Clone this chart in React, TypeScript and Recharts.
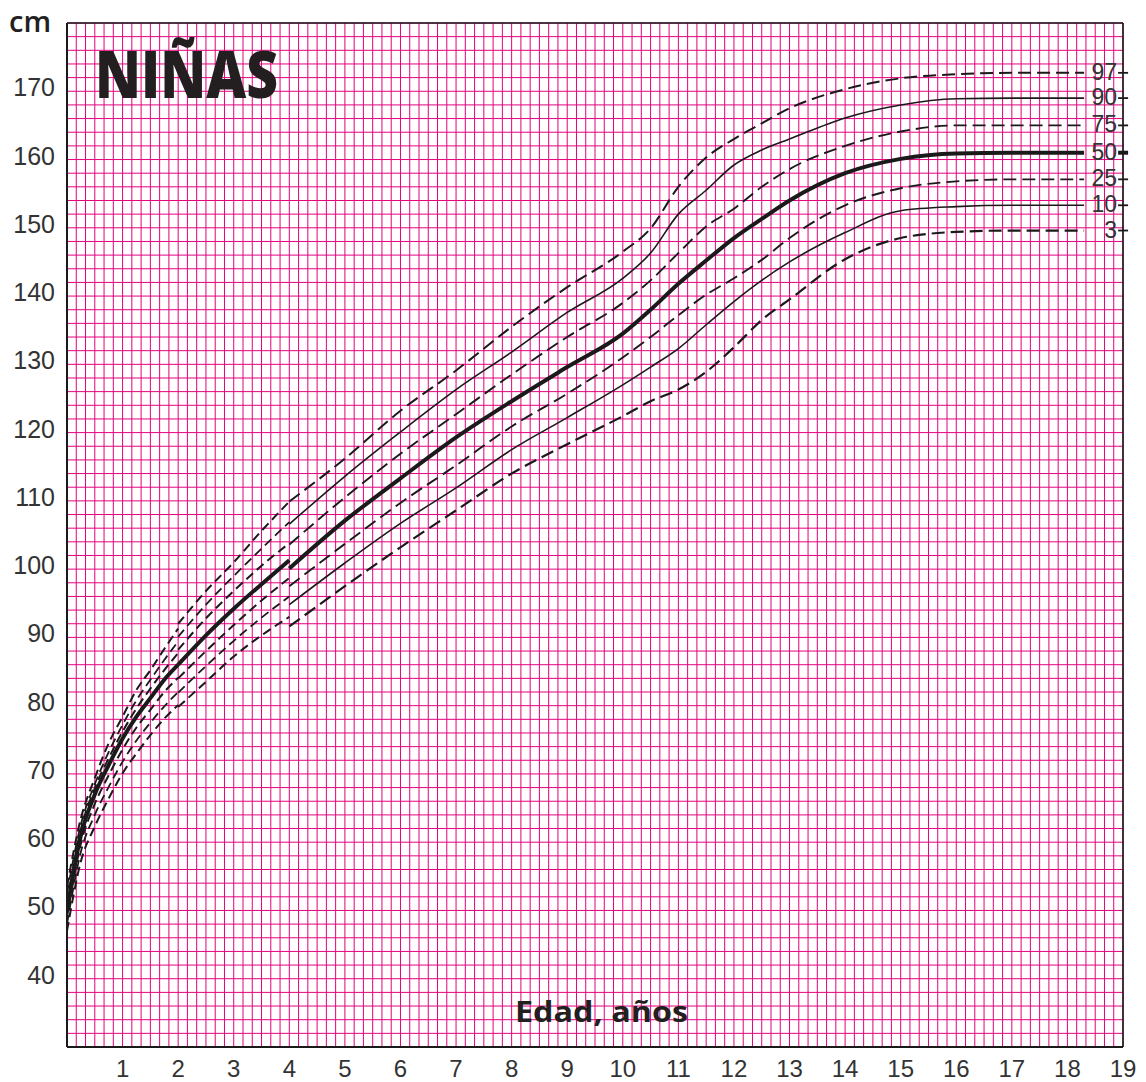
import React from 'react';
import { LineChart, Line, XAxis, YAxis, CartesianGrid, ReferenceLine, ReferenceDot } from 'recharts';

// edades (años) de cada tramo de las curvas
const agesInfant = [0, 0.25, 0.5, 0.75, 1, 1.25, 1.5, 1.75, 2];
const agesToddler = [2, 2.5, 3, 3.5, 4];
const agesChild = [4, 5, 6, 7, 8, 9, 10, 10.5, 11, 11.5, 12, 12.5, 13, 14, 15, 16, 17, 18.3];

// talla (cm) por percentil, tramo 0-2 años
const p97Infant = [53.5, 63.5, 69.4, 74.5, 78.4, 82.3, 85.2, 88.3, 91.3];
const p90Infant = [52.5, 62.6, 68.5, 73.2, 77.2, 80.8, 83.8, 86.7, 89.4];
const p75Infant = [51.3, 61.9, 67.9, 72.3, 76.2, 79.6, 82.5, 85.2, 87.7];
const p50Infant = [50.0, 61.0, 67.0, 71.3, 75.2, 78.4, 81.1, 83.8, 86.0];
const p25Infant = [49.0, 59.8, 65.6, 69.8, 73.6, 76.8, 79.4, 82.0, 84.1];
const p10Infant = [48.0, 58.6, 64.0, 68.1, 71.8, 74.9, 77.5, 79.9, 82.0];
const p3Infant = [47.0, 57.2, 62.3, 66.4, 70.1, 73.0, 75.7, 78.1, 80.1];

// tramo 2-4 años
const p97Toddler = [92.0, 96.8, 101.0, 105.6, 109.9];
const p90Toddler = [90.1, 94.8, 99.0, 103.0, 106.9];
const p75Toddler = [88.2, 92.8, 96.8, 100.5, 103.8];
const p50Toddler = [86.0, 90.3, 94.2, 97.8, 101.3];
const p25Toddler = [84.0, 88.0, 91.8, 95.4, 98.7];
const p10Toddler = [81.9, 85.8, 89.5, 92.9, 96.0];
const p3Toddler = [79.8, 83.5, 87.2, 90.3, 93.0];

// tramo 4-18 años
const p97Child = [109.9, 116.2, 123.2, 129.1, 135.5, 141.3, 146.5, 149.9, 156.0, 160.3, 163.0, 165.3, 167.5, 170.3, 171.9, 172.5, 172.7, 172.7];
const p90Child = [106.6, 113.6, 120.1, 126.3, 131.8, 137.6, 142.6, 146.3, 152.0, 155.5, 159.2, 161.4, 163.0, 166.1, 168.0, 168.9, 169.0, 169.0];
const p75Child = [103.6, 110.5, 116.9, 122.7, 128.5, 134.0, 139.0, 142.3, 146.3, 150.2, 152.8, 156.0, 158.6, 162.0, 164.1, 165.0, 165.0, 165.0];
const p50Child = [100.1, 107.1, 113.3, 119.3, 124.6, 129.6, 134.5, 138.0, 141.8, 145.2, 148.5, 151.3, 154.0, 158.0, 160.1, 160.9, 161.0, 161.0];
const p25Child = [97.5, 103.7, 109.7, 115.2, 120.9, 125.7, 131.0, 134.0, 137.2, 140.2, 142.6, 145.3, 148.5, 153.3, 155.8, 156.8, 157.1, 157.1];
const p10Child = [94.8, 100.9, 106.7, 111.9, 117.5, 122.2, 127.0, 129.6, 132.3, 135.8, 139.2, 142.3, 145.0, 149.3, 152.5, 153.1, 153.3, 153.3];
const p3Child = [91.6, 97.5, 103.2, 108.6, 114.0, 118.3, 122.4, 124.6, 126.3, 128.9, 132.5, 136.5, 139.5, 145.4, 148.5, 149.4, 149.6, 149.6];

const yearLabels = [1, 2, 3, 4, 5, 6, 7, 8, 9, 10, 11, 12, 13, 14, 15, 16, 17, 18, 19];
const cmLabels = [40, 50, 60, 70, 80, 90, 100, 110, 120, 130, 140, 150, 160, 170];

// papel milimetrado: cada 2 meses y cada 2 cm
const gridAges = Array.from({ length: 115 }, (_, k) => k / 6);
const gridCm = Array.from({ length: 76 }, (_, k) => 30 + 2 * k);

const INK = '#1a1a1a';
const PINK = '#e5007e';
const FONT = '"Liberation Sans", Arial, sans-serif';

type Style = { width: number; dash?: string };

const percentiles: {
  name: string;
  infant: number[];
  toddler: number[];
  child: number[];
  early: Style;
  late: Style;
}[] = [
  { name: '97', infant: p97Infant, toddler: p97Toddler, child: p97Child, early: { width: 2, dash: '9 5' }, late: { width: 2, dash: '13 6' } },
  { name: '90', infant: p90Infant, toddler: p90Toddler, child: p90Child, early: { width: 1.8, dash: '9 5' }, late: { width: 1.6 } },
  { name: '75', infant: p75Infant, toddler: p75Toddler, child: p75Child, early: { width: 2, dash: '9 5' }, late: { width: 1.9, dash: '13 6' } },
  { name: '50', infant: p50Infant, toddler: p50Toddler, child: p50Child, early: { width: 4 }, late: { width: 4 } },
  { name: '25', infant: p25Infant, toddler: p25Toddler, child: p25Child, early: { width: 2, dash: '9 5' }, late: { width: 1.9, dash: '13 6' } },
  { name: '10', infant: p10Infant, toddler: p10Toddler, child: p10Child, early: { width: 1.8, dash: '9 5' }, late: { width: 1.6 } },
  { name: '3', infant: p3Infant, toddler: p3Toddler, child: p3Child, early: { width: 2, dash: '9 5' }, late: { width: 2.2, dash: '13 6' } },
];

const toPoints = (ages: number[], values: number[]) => ages.map((age, i) => ({ age, cm: values[i] }));

const XTick = (props: any) => {
  const { x, y, payload } = props;
  if (!yearLabels.includes(payload.value)) return <g />;
  return (
    <text x={x} y={y} dy={30} textAnchor="middle" fontSize={24} fontFamily={FONT} fill="#333">
      {payload.value}
    </text>
  );
};

const YTick = (props: any) => {
  const { x, y, payload } = props;
  if (!cmLabels.includes(payload.value)) return <g />;
  return (
    <text x={x} y={y} dy={5} textAnchor="end" fontSize={25} fontFamily={FONT} fill="#333">
      {payload.value}
    </text>
  );
};

const endMark = (name: string) => (props: any) => {
  const { cx, cy } = props;
  const thick = name === '50';
  return (
    <g>
      <text x={cx + 33} y={cy} dy={7} textAnchor="end" fontSize={23} fontFamily={FONT} fill="#333">
        {name}
      </text>
      <line x1={cx + 34} x2={cx + 44} y1={cy} y2={cy} stroke={INK} strokeWidth={thick ? 4 : 1.8} />
    </g>
  );
};

export default function App() {
  const W = 1146;
  const H = 1082;
  return (
    <div style={{ position: 'absolute', left: 0, top: 0, width: W, height: H, background: '#fff' }}>
      <LineChart width={W} height={H} margin={{ top: 23, right: 23, left: 0, bottom: 0 }}>
        <CartesianGrid stroke={PINK} strokeWidth={1} />
        <XAxis
          dataKey="age"
          type="number"
          domain={[0, 19]}
          ticks={gridAges}
          interval={0}
          height={35}
          tickSize={0}
          tickMargin={0}
          tickLine={false}
          tick={<XTick />}
          axisLine={{ stroke: INK, strokeWidth: 2 }}
          allowDataOverflow
        />
        <YAxis
          dataKey="cm"
          type="number"
          domain={[30, 180]}
          ticks={gridCm}
          interval={0}
          width={67}
          tickSize={0}
          tickMargin={12}
          tickLine={false}
          tick={<YTick />}
          axisLine={{ stroke: INK, strokeWidth: 2 }}
          allowDataOverflow
        />
        <ReferenceLine y={180} stroke={INK} strokeWidth={1.6} />
        <ReferenceLine x={19} stroke={INK} strokeWidth={1.6} />

        {percentiles.map((p) => (
          <Line
            key={`a${p.name}`}
            data={toPoints(agesInfant, p.infant)}
            dataKey="cm"
            type="monotone"
            dot={false}
            stroke={INK}
            strokeWidth={p.early.width}
            strokeDasharray={p.early.dash}
            isAnimationActive={false}
          />
        ))}
        {percentiles.map((p) => (
          <Line
            key={`b${p.name}`}
            data={toPoints(agesToddler, p.toddler)}
            dataKey="cm"
            type="monotone"
            dot={false}
            stroke={INK}
            strokeWidth={p.early.width}
            strokeDasharray={p.early.dash}
            isAnimationActive={false}
          />
        ))}
        {percentiles.map((p) => (
          <Line
            key={`c${p.name}`}
            data={toPoints(agesChild, p.child)}
            dataKey="cm"
            type="monotone"
            dot={false}
            stroke={INK}
            strokeWidth={p.late.width}
            strokeDasharray={p.late.dash}
            isAnimationActive={false}
          />
        ))}
        {percentiles.map((p) => (
          <ReferenceDot
            key={`d${p.name}`}
            x={agesChild[agesChild.length - 1]}
            y={p.child[p.child.length - 1]}
            r={0}
            shape={endMark(p.name)}
          />
        ))}
      </LineChart>
      <svg width={W} height={H} style={{ position: 'absolute', left: 0, top: 0, pointerEvents: 'none' }}>
        <text x={9} y={32} fontSize={29} fontWeight={600} fontFamily='"Open Sans", sans-serif' fill="#231f20">
          cm
        </text>
        <text
          x={95}
          y={98}
          fontSize={66}
          fontWeight={800}
          fontFamily='"Open Sans", sans-serif'
          fill="#231f20"
          textLength={183}
          lengthAdjust="spacingAndGlyphs"
        >
          NIÑAS
        </text>
        <text
          x={515}
          y={1022}
          fontSize={28}
          fontWeight={700}
          fontFamily='"Open Sans", sans-serif'
          fill="#231f20"
          textLength={173}
          lengthAdjust="spacingAndGlyphs"
        >
          Edad, años
        </text>
      </svg>
    </div>
  );
}
